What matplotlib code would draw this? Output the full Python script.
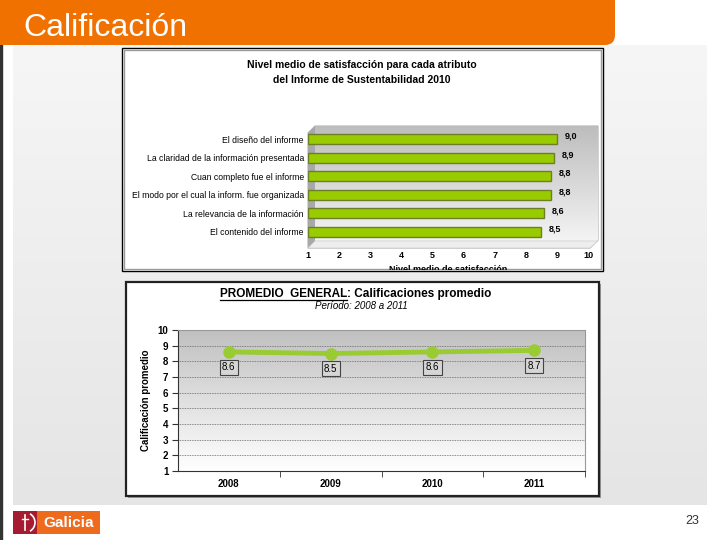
import numpy as np
import matplotlib
matplotlib.use("Agg")
import matplotlib.pyplot as plt
from matplotlib.patches import Rectangle, FancyBboxPatch, Polygon
from matplotlib.lines import Line2D

plt.rcParams['font.family'] = ['Liberation Sans', 'DejaVu Sans']

# ---------------- data ----------------
attributes = ["El diseño del informe",
              "La claridad de la información presentada",
              "Cuan completo fue el informe",
              "El modo por el cual la inform. fue organizada",
              "La relevancia de la información",
              "El contenido del informe"]
satisfaction = [9.0, 8.9, 8.8, 8.8, 8.6, 8.5]
sat_labels = ["9,0", "8,9", "8,8", "8,8", "8,6", "8,5"]
sat_ticks = [1, 2, 3, 4, 5, 6, 7, 8, 9, 10]

years = ["2008", "2009", "2010", "2011"]
averages = [8.6, 8.5, 8.6, 8.7]
avg_ticks = [1, 2, 3, 4, 5, 6, 7, 8, 9, 10]

W, H = 720, 540
fig = plt.figure(figsize=(7.2, 5.4), dpi=100)
fig.patch.set_facecolor('white')


def ax_px(x0, y0, x1, y1, **kw):
    return fig.add_axes([x0 / W, 1 - y1 / H, (x1 - x0) / W, (y1 - y0) / H], **kw)


def fx(x):
    return x / W


def fy(y):
    return 1 - y / H


# ---------------- slide background ----------------
bg = ax_px(0, 0, W, H)
bg.set_xlim(0, W)
bg.set_ylim(H, 0)
bg.axis('off')
grad = np.linspace(0, 1, 256).reshape(-1, 1)
bg.imshow(grad, cmap=matplotlib.colors.LinearSegmentedColormap.from_list('g', ['#f6f6f6', '#e5e5e5']),
          extent=(13, 707, 505, 45), aspect='auto', zorder=0)
bg.add_patch(Rectangle((0, 0), 1.5, H, color='#333333', zorder=1))
# orange header with rounded bottom-right
bg.add_patch(FancyBboxPatch((-20, -20), 635, 65, boxstyle="round,pad=0,rounding_size=10",
                            facecolor='#f07000', edgecolor='none', zorder=2))
bg.text(23, 28, "Calificación", color='white', fontsize=23, va='center', ha='left', zorder=3)

# logo
bg.add_patch(Rectangle((13, 511), 24, 23, facecolor='#a51c30', edgecolor='none', zorder=2))
bg.add_patch(Rectangle((37, 511), 63, 23, facecolor='#ee6b1e', edgecolor='none', zorder=2))
bg.plot([25, 25], [515, 530], color='white', lw=1.2, zorder=3)
bg.plot([22, 28], [519, 519], color='white', lw=1.0, zorder=3)
bg.add_patch(matplotlib.patches.Arc((25, 522.5), 20, 20, theta1=300, theta2=60, color='white', lw=1.2, zorder=3))
bg.text(43, 523, "Galicia", color='white', fontsize=11, fontweight='bold', va='center', ha='left', zorder=3)
bg.text(699, 521, "23", color='#333333', fontsize=9, va='center', ha='right', zorder=3)

# ---------------- top chart frame ----------------
bg.add_patch(Rectangle((122, 48), 481, 223, facecolor='white', edgecolor='black', lw=1.0, zorder=4))
bg.add_patch(Rectangle((124, 50), 477, 219, facecolor='none', edgecolor='#9a9a9a', lw=1.0, zorder=4))
bg.text(362, 65, "Nivel medio de satisfacción para cada atributo", fontsize=7.5, fontweight='bold',
        ha='center', va='center', zorder=5)
bg.text(362, 80, "del Informe de Sustentabilidad 2010", fontsize=7.5, fontweight='bold',
        ha='center', va='center', zorder=5)

# 3D wall behind bars
wall = Polygon([(308, 133), (315, 126), (598, 126), (598, 240), (590, 248), (308, 248)],
               closed=True, facecolor='#c8c8c8', edgecolor='#b0b0b0', lw=0.8, zorder=5)
bg.add_patch(wall)
bg.imshow(np.linspace(0, 1, 256).reshape(-1, 1),
          cmap=matplotlib.colors.LinearSegmentedColormap.from_list('w', ['#bdbdbd', '#f4f4f4']),
          extent=(315, 598, 241, 126), aspect='auto', zorder=5.5, clip_path=wall)
bg.add_patch(Polygon([(308, 133), (315, 126), (315, 241), (308, 248)], closed=True,
                     facecolor='#a8a8a8', edgecolor='none', zorder=5.6))
bg.add_patch(Polygon([(308, 248), (315, 241), (598, 241), (590, 248)], closed=True,
                     facecolor='#eeeeee', edgecolor='#cccccc', lw=0.5, zorder=5.6))

# clipped x-axis label (cut by the frame, as in the slide)
frame_ax = ax_px(123, 49, 602, 270)
frame_ax.set_xlim(123, 602)
frame_ax.set_ylim(270, 49)
frame_ax.axis('off')
frame_ax.patch.set_alpha(0)
frame_ax.set_zorder(5)
frame_ax.text(448, 265.5, "Nivel medio de satisfacción", fontsize=6.5, fontweight='bold',
              ha='center', va='top', clip_on=True)

ax1 = ax_px(308, 127, 588, 243)
ax1.set_zorder(6)
ax1.patch.set_alpha(0)
ypos = np.arange(len(attributes))
ax1.barh(ypos, np.array(satisfaction) - 1, left=1, height=0.55, color='#99cc00',
         edgecolor='#6d7f26', linewidth=1.0)
for yv, v, lab in zip(ypos, satisfaction, sat_labels):
    ax1.text(v + 0.25, yv - 0.15, lab, fontsize=6.5, fontweight='bold', ha='left', va='center')
ax1.set_xlim(1, 10)
ax1.set_ylim(5.6, -0.65)
ax1.set_xticks(sat_ticks)
ax1.set_xticklabels([str(t) for t in sat_ticks], fontsize=6.5, fontweight='bold')
ax1.set_yticks(ypos)
ax1.set_yticklabels(attributes, fontsize=6.2)
ax1.tick_params(axis='x', length=0, pad=6)
ax1.tick_params(axis='y', length=0, pad=3)
for s in ax1.spines.values():
    s.set_visible(False)

# ---------------- bottom chart frame ----------------
bg.add_patch(Rectangle((128, 284), 473, 214, facecolor='#9a9a9a', edgecolor='none', zorder=4))
bg.add_patch(Rectangle((126, 282), 473, 214, facecolor='white', edgecolor='#222222', lw=1.6, zorder=4.2))

t1 = fig.text(fx(220), fy(294), "PROMEDIO  GENERAL", fontsize=8.5, fontweight='bold',
              ha='left', va='center')
fig.canvas.draw()
r = fig.canvas.get_renderer()
bb = t1.get_window_extent(renderer=r)
fig.text(bb.x1 / W, fy(294), ": Calificaciones promedio", fontsize=8.5, fontweight='bold',
         ha='left', va='center')
fig.add_artist(Line2D([bb.x0 / W, bb.x1 / W], [(bb.y0 + 0.5) / H, (bb.y0 + 0.5) / H],
                      color='black', lw=0.9))
fig.text(fx(361), fy(306), "Período: 2008 a 2011", fontsize=7, style='italic',
         ha='center', va='center')

ax2 = ax_px(178, 330, 585, 471)
ax2.set_zorder(6)
xpos = np.arange(len(years))
ax2.imshow(np.linspace(0, 1, 256).reshape(-1, 1),
           cmap=matplotlib.colors.LinearSegmentedColormap.from_list('p', ['#c0c0c0', '#ffffff']),
           extent=(-0.5, 3.5, 1, 10), aspect='auto', zorder=0)
for g in avg_ticks[1:-1]:
    ax2.axhline(g, color='#666666', lw=0.6, ls=(0, (1, 1)), zorder=1)
ax2.plot(xpos, averages, color='#99cc33', lw=3.5, marker='o', markersize=8,
         markerfacecolor='#99cc33', markeredgecolor='#99cc33', zorder=3)
for xv, v in zip(xpos, averages):
    ax2.annotate(f"{v:.1f}", (xv, v), xytext=(0, -11), textcoords='offset points',
                 ha='center', va='center', fontsize=7,
                 bbox=dict(boxstyle='square,pad=0.25', facecolor='#d6d6d6', edgecolor='#444444', lw=0.8),
                 zorder=4)
ax2.set_xlim(-0.5, 3.5)
ax2.set_ylim(1, 10)
ax2.set_yticks(avg_ticks)
ax2.set_yticklabels([str(t) for t in avg_ticks], fontsize=7, fontweight='bold')
ax2.set_xticks(xpos)
ax2.set_xticklabels(years, fontsize=7, fontweight='bold')
ax2.set_xticks([0.5, 1.5, 2.5, 3.5], minor=True)
ax2.tick_params(axis='x', which='major', length=0, pad=6)
ax2.tick_params(axis='x', which='minor', length=4, direction='out', color='#333333')
ax2.tick_params(axis='y', length=4, direction='out', color='#333333', pad=3)
ax2.spines['left'].set_color('#333333')
ax2.spines['bottom'].set_color('#333333')
ax2.spines['top'].set_color('#999999')
ax2.spines['right'].set_color('#999999')
ax2.set_ylabel("Calificación promedio", fontsize=7, fontweight='bold', labelpad=5)

fig.savefig("out.png", dpi=100, facecolor=fig.get_facecolor())
